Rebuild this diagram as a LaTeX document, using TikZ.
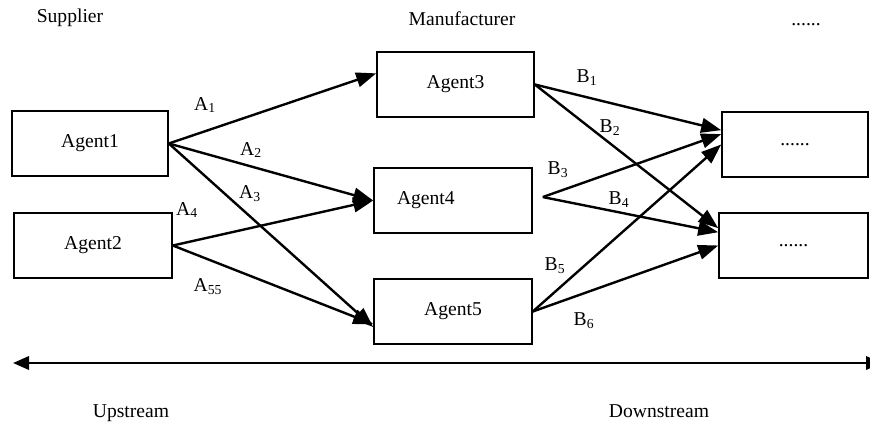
\documentclass[tikz,border=0pt]{standalone}
\usepackage{fontspec}
\setmainfont{Liberation Serif}
\usetikzlibrary{arrows.meta}

\begin{document}
\begin{tikzpicture}[x=0.75pt,y=-0.75pt,
  font=\fontsize{14.7}{17}\selectfont,
  agent/.style={draw,line width=1.2pt,minimum height=48.75pt,inner sep=0pt},
  flow/.style={line width=1.8pt,-{Triangle[length=15pt,width=11pt]}},
  lbl/.style={inner sep=0pt}]
\useasboundingbox (0,0) rectangle (870,421);
% headings
\node[anchor=base] (sup) at (70,22) {Supplier};
\node[anchor=base] (man) at (462,25) {Manufacturer};
\node[anchor=base] (etc) at (806,25) {......};
% agents
\node[agent,minimum width=117pt] (a1) at (90,143.5) {Agent1};
\node[agent,minimum width=118.5pt] (a2) at (93,245.5) {Agent2};
\node[agent,minimum width=117.75pt] (a3) at (455.5,84.5) {Agent3};
\node[agent,text width=84pt,align=left,inner xsep=17.25pt] (a4) at (453,200.5) {Agent4};
\node[agent,minimum width=118.5pt] (a5) at (453,311.5) {Agent5};
\node[agent,minimum width=109.5pt] (r1) at (795,144.5) {......};
\node[agent,minimum width=111.75pt] (r2) at (793.5,245.5) {......};
\coordinate (m4) at ([xshift=7.5pt,yshift=2.6pt]a4.east);
% supplier to manufacturer
\draw[flow] (a1.east) -- (a3.172);
\draw[flow] (a1.east) -- (a4.west);
\draw[flow] (a1.east) -- (a5.191);
\draw[flow] (a2.east) -- (a4.west);
\draw[flow] (a2.east) -- (a5.189);
\node[lbl] (la1) at (205,105) {A\textsubscript{1}};
\node[lbl] (la2) at (251,150) {A\textsubscript{2}};
\node[lbl] (la3) at (250,194) {A\textsubscript{3}};
\node[lbl] (la4) at (187,210) {A\textsubscript{4}};
\node[lbl] (la5) at (208,287) {A\textsubscript{55}};
% manufacturer to downstream
\draw[flow] (a3.east) -- (r1.169);
\draw[flow] (a3.east) -- (r2.167);
\draw[flow] (m4) -- (r1.172);
\draw[flow] (m4) -- (r2.170);
\draw[flow] (a5.east) -- (r1.west);
\draw[flow] (a5.east) -- (r2.west);
\node[lbl] (lb1) at (587,78) {B\textsubscript{1}};
\node[lbl] (lb2) at (610,128) {B\textsubscript{2}};
\node[lbl] (lb3) at (558,170) {B\textsubscript{3}};
\node[lbl] (lb4) at (619,200) {B\textsubscript{4}};
\node[lbl] (lb5) at (555,266) {B\textsubscript{5}};
\node[lbl] (lb6) at (584,321) {B\textsubscript{6}};
% stream axis
\coordinate (up) at (13,363);
\coordinate (down) at (882,363);
\draw[line width=1.8pt,{Triangle[length=12pt,width=10pt]}-{Triangle[length=12pt,width=10pt]}] (up) -- (down);
\node[anchor=base] (ups) at (131,417) {Upstream};
\node[anchor=base] (downs) at (659,417) {Downstream};
\end{tikzpicture}
\end{document}
